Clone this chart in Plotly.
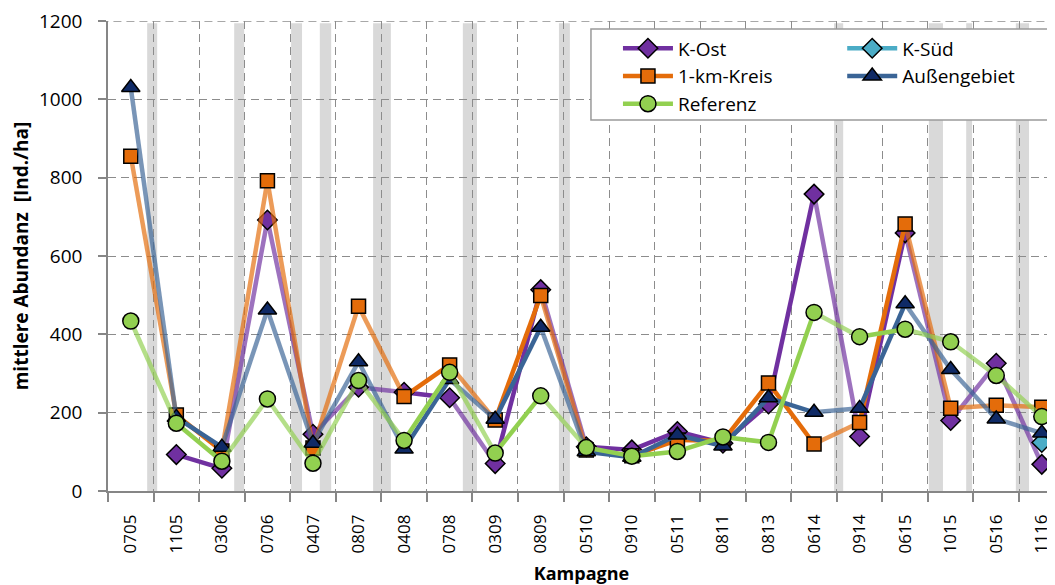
import plotly.graph_objects as go

# ---------------- data ----------------
campaigns = ["0705", "1105", "0306", "0706", "0407", "0807", "0408", "0708", "0309", "0809",
             "0510", "0910", "0511", "0811", "0813", "0614", "0914", "0615", "1015", "0516", "1116"]

k_ost = [None, 93, 58, 692, 145, 265, 252, 238, 70, 514, 113, 105, 152, 122, 222, 758, 139, 659, 180, 326, 68]
k_sued = [None, None, None, None, None, None, None, None, None, None, None, None, None, None, None,
          None, None, None, None, None, 124]
km_kreis = [855, 194, 102, 792, 110, 472, 241, 322, 181, 499, 105, 90, 130, 128, 276, 120, 175, 682, 211, 219, 214]
aussengebiet = [1030, 188, 112, 462, 122, 330, 107, 285, 183, 418, 100, 86, 143, 115, 238, 201, 211, 478, 310, 184, 148]
referenz = [434, 173, 76, 235, 71, 282, 129, 303, 97, 243, 111, 89, 101, 138, 124, 456, 394, 413, 381, 295, 190]

y_ticks = [0, 200, 400, 600, 800, 1000, 1200]

# index of the campaign after which a sampling break follows
break_after = [0, 2, 3, 4, 5, 7, 9, 15, 17, 18, 19]

# ---------------- styling ----------------
FONT = "Open Sans"
# grey break bands (in campaign-axis units)
break_bands = [(0.36, 0.58), (2.27, 2.49), (3.52, 3.76), (4.15, 4.40), (5.32, 5.71), (7.29, 7.60),
               (9.40, 9.64), (15.44, 15.64), (17.52, 17.83), (18.34, 18.47), (19.43, 19.72)]

series = [
    dict(name="K-Ost", y=k_ost, line="#7030A0", fill="#7030A0", symbol="diamond", size=15, legend="legend"),
    dict(name="K-Süd", y=k_sued, line="#4BACC6", fill="#4BACC6", symbol="diamond", size=15, legend="legend2"),
    dict(name="1-km-Kreis", y=km_kreis, line="#E46C0A", fill="#E46C0A", symbol="square", size=14, legend="legend"),
    dict(name="Außengebiet", y=aussengebiet, line="#3A6496", fill="#0F2A66", symbol="triangle-up", size=16, legend="legend2"),
    dict(name="Referenz", y=referenz, line="#92D050", fill="#92D050", symbol="circle", size=16, legend="legend"),
]

x_idx = list(range(len(campaigns)))


def segments(vals, across_break):
    xs, ys = [], []
    for i in range(len(vals) - 1):
        if vals[i] is None or vals[i + 1] is None:
            continue
        if (i in break_after) != across_break:
            continue
        xs += [x_idx[i], x_idx[i + 1], None]
        ys += [vals[i], vals[i + 1], None]
    return xs, ys


fig = go.Figure()
LW = 4.5
for s in series:
    xs, ys = segments(s["y"], False)
    fig.add_trace(go.Scatter(x=xs, y=ys, mode="lines", line=dict(color=s["line"], width=LW),
                             showlegend=False, hoverinfo="skip"))
    xs, ys = segments(s["y"], True)
    fig.add_trace(go.Scatter(x=xs, y=ys, mode="lines", line=dict(color=s["line"], width=LW),
                             opacity=0.68, showlegend=False, hoverinfo="skip"))
    fig.add_trace(go.Scatter(x=x_idx, y=s["y"], mode="markers", name=s["name"],
                             marker=dict(symbol=s["symbol"], size=s["size"], color=s["fill"],
                                         line=dict(color="#000000", width=1.5)),
                             showlegend=False))
    # legend entry
    fig.add_trace(go.Scatter(x=[None], y=[None], mode="lines+markers", name=s["name"],
                             legend=s["legend"],
                             line=dict(color=s["line"], width=LW),
                             marker=dict(symbol=s["symbol"], size=s["size"], color=s["fill"],
                                         line=dict(color="#000000", width=1.5))))

GRID = "#8C8C8C"
shapes = []
for a, b in break_bands:
    shapes.append(dict(type="rect", xref="x", yref="paper", x0=a, x1=b, y0=0, y1=0.995,
                       fillcolor="#D9D9D9", line=dict(width=0), layer="below"))
# top grid line (at the upper end of the value axis)
shapes.append(dict(type="line", xref="paper", yref="y", x0=-0.008, x1=1, y0=y_ticks[-1], y1=y_ticks[-1],
                   line=dict(color=GRID, width=1.3, dash="8px,5px"), layer="below"))
shapes.append(dict(type="rect", xref="paper", yref="paper", x0=0.510, x1=0.9926, y0=0.7894, y1=0.983,
                   fillcolor="white", line=dict(color="#9A9A9A", width=1.5), layer="above"))

fig.update_layout(
    width=1047, height=577,
    margin=dict(l=100, r=0, t=13, b=94),
    paper_bgcolor="white", plot_bgcolor="white",
    font=dict(family=FONT, size=18, color="#000000"),
    shapes=shapes,
    xaxis=dict(
        range=[-0.5, 20.29], tickmode="array", tickvals=x_idx, ticktext=campaigns,
        tickangle=-90, ticks="", showgrid=False, zeroline=False,
        showline=True, linecolor="#868686", linewidth=1.5,
        tickfont=dict(family=FONT, size=17), ticklabelstandoff=15,
        minor=dict(tickmode="array", tickvals=[i - 0.5 for i in range(len(campaigns))],
                   ticks="outside", ticklen=9, tickcolor="#868686", tickwidth=1.5,
                   showgrid=True, gridcolor=GRID, griddash="8px,5px", gridwidth=1.3),
        title=dict(text="<b>Kampagne</b>", font=dict(family=FONT, size=18), standoff=17),
    ),
    yaxis=dict(
        range=[0, 1200], tickmode="array", tickvals=y_ticks,
        ticks="outside", ticklen=8, tickcolor="#868686", tickwidth=1.5,
        showline=True, linecolor="#868686", linewidth=1.5, zeroline=False,
        showgrid=True, gridcolor=GRID, griddash="8px,5px", gridwidth=1.3,
        tickfont=dict(family=FONT, size=19), ticklabelstandoff=12, ticklabeloverflow="allow",
        title=dict(text="<b>mittlere Abundanz  [Ind./ha]</b>", font=dict(family=FONT, size=19), standoff=10),
    ),
    legend=dict(x=0.5385, y=0.982, xanchor="left", yanchor="top", bgcolor="rgba(0,0,0,0)",
                borderwidth=0, font=dict(family=FONT, size=19), itemwidth=50),
    legend2=dict(x=0.7753, y=0.982, xanchor="left", yanchor="top", bgcolor="rgba(0,0,0,0)",
                 borderwidth=0, font=dict(family=FONT, size=19), itemwidth=50),
)

fig.write_html("out.html")
